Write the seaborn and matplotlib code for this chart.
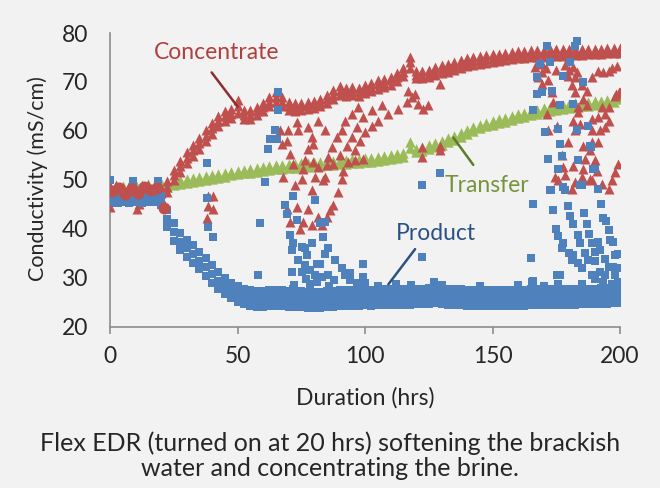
import matplotlib
matplotlib.use("Agg")
import matplotlib.pyplot as plt
import pandas as pd
import seaborn as sns
from matplotlib import font_manager

# ---------------- data ----------------
hours = [0, 2.5, 5, 7.5, 10, 12.5, 15, 17.5, 20,
         22.5, 25, 27.5, 30, 32.5, 35, 37.5, 40, 42.5,
         45, 47.5, 50, 52.5, 55, 57.5, 60, 62.5, 65,
         67.5, 70, 72.5, 75, 77.5, 80, 82.5, 85, 87.5,
         90, 92.5, 95, 97.5, 100, 102.5, 105, 107.5, 110,
         112.5, 115, 117.5, 120, 122.5, 125, 127.5, 130, 132.5,
         135, 137.5, 140, 142.5, 145, 147.5, 150, 152.5, 155,
         157.5, 160, 162.5, 165, 167.5, 170, 172.5, 175, 177.5,
         180, 182.5, 185, 187.5, 190, 192.5, 195, 197.5, 200]

# Concentrate main band (lower edge, middle, upper edge)
conc_lo = [46.5, 46.9, 46.3, 46.7, 46.1, 46.5, 46.9, 46.6, 46.3,
           47.5, 49.9, 51.7, 53.4, 54.9, 56.4, 57.9, 59.4, 60.9,
           62.1, 62.6, 63.6, 62.4, 62.5, 63.2, 64.0, 65.1, 66.0,
           65.1, 64.2, 64.0, 64.2, 64.4, 64.6, 65.0, 65.6, 66.5,
           67.3, 67.2, 67.4, 67.2, 67.7, 68.2, 68.6, 68.9, 69.4,
           70.2, 71.2, 72.8, 70.8, 70.9, 71.0, 71.4, 71.9, 72.1,
           72.4, 72.8, 73.2, 73.4, 73.6, 73.9, 74.1, 74.2, 74.4,
           74.7, 74.8, 74.9, 75.0, 75.1, 75.1, 75.2, 75.3, 75.4,
           75.4, 75.5, 75.6, 75.7, 75.7, 75.8, 75.9, 75.9, 76.0]
conc_mid = [47.6, 47.9, 47.3, 47.7, 47.1, 47.5, 47.9, 47.6, 47.3,
            48.6, 51.0, 52.8, 54.5, 56.0, 57.5, 59.0, 60.5, 62.0,
            63.0, 63.5, 65.0, 63.3, 63.3, 64.0, 64.8, 66.0, 67.0,
            66.0, 65.0, 64.8, 65.0, 65.2, 65.4, 65.8, 66.5, 67.4,
            68.2, 68.0, 68.2, 68.0, 68.5, 69.0, 69.5, 69.8, 70.3,
            71.0, 72.0, 74.0, 71.5, 71.5, 71.7, 72.2, 72.7, 72.9,
            73.2, 73.6, 74.0, 74.2, 74.4, 74.7, 74.9, 75.0, 75.2,
            75.5, 75.6, 75.7, 75.8, 75.9, 75.9, 76.0, 76.0, 76.1,
            76.1, 76.2, 76.2, 76.3, 76.3, 76.3, 76.4, 76.4, 76.4]
conc_hi = [48.7, 49.0, 48.4, 48.8, 48.2, 48.6, 49.0, 48.7, 48.4,
           49.7, 52.1, 53.9, 55.6, 57.1, 58.6, 60.1, 61.6, 63.1,
           64.0, 64.4, 66.4, 64.2, 64.2, 64.9, 65.7, 66.9, 68.0,
           66.9, 65.9, 65.6, 65.8, 66.0, 66.2, 66.6, 67.4, 68.3,
           69.1, 68.8, 69.0, 68.8, 69.3, 69.8, 70.3, 70.6, 71.1,
           71.8, 72.8, 75.0, 72.3, 72.2, 72.4, 73.0, 73.5, 73.7,
           74.0, 74.4, 74.8, 75.0, 75.2, 75.5, 75.7, 75.8, 76.0,
           76.2, 76.3, 76.4, 76.5, 76.6, 76.6, 76.7, 76.7, 76.8,
           76.7, 76.8, 76.8, 76.8, 76.8, 76.8, 76.9, 76.9, 76.9]

# Transfer band (lower and upper edge)
trans_lo = [47.6, 47.8, 47.9, 48.0, 48.1, 48.2, 48.3, 48.4, 48.5,
            48.6, 48.9, 49.1, 49.3, 49.5, 49.7, 49.9, 50.1, 50.3,
            50.6, 50.9, 51.1, 51.3, 51.5, 51.7, 51.9, 52.1, 52.2,
            52.3, 52.4, 52.5, 52.6, 52.7, 52.8, 52.9, 53.0, 53.1,
            53.2, 53.3, 53.4, 53.5, 53.6, 53.7, 53.9, 54.0, 54.2,
            54.4, 54.6, 56.6, 55.6, 55.8, 56.3, 56.7, 57.2, 57.7,
            58.2, 58.8, 59.4, 59.9, 60.5, 60.9, 61.3, 61.6, 61.9,
            62.3, 62.6, 62.9, 63.2, 63.5, 63.8, 64.0, 64.2, 64.4,
            64.6, 64.8, 65.0, 65.1, 65.3, 65.4, 65.6, 66.0, 66.6]
trans_hi = [48.4, 48.6, 48.7, 48.8, 48.9, 49.0, 49.1, 49.2, 49.3,
            49.4, 49.7, 49.9, 50.1, 50.3, 50.5, 50.7, 50.9, 51.1,
            51.4, 51.7, 51.9, 52.1, 52.3, 52.5, 52.7, 52.9, 53.0,
            53.1, 53.2, 53.3, 53.4, 53.5, 53.6, 53.7, 53.8, 53.9,
            54.0, 54.1, 54.2, 54.3, 54.4, 54.5, 54.7, 54.8, 55.0,
            55.2, 55.4, 57.8, 56.4, 56.6, 57.1, 57.5, 58.0, 58.5,
            59.0, 59.6, 60.2, 60.7, 61.3, 61.7, 62.1, 62.4, 62.7,
            63.1, 63.4, 63.7, 64.0, 64.3, 64.6, 64.8, 65.0, 65.2,
            65.4, 65.6, 65.8, 65.9, 66.1, 66.2, 66.4, 66.8, 67.4]

# Product band (lower edge, middle, upper edge)
prod_lo = [45.4, 45.3, 45.5, 45.2, 45.4, 45.3, 45.4, 45.5, 44.8,
           40.3, 37.5, 35.6, 34.2, 33.0, 31.7, 30.4, 29.0, 27.7,
           26.6, 25.8, 25.1, 24.6, 24.3, 24.1, 24.0, 24.2, 24.3,
           24.2, 24.1, 24.0, 24.0, 23.9, 23.9, 23.9, 24.0, 24.1,
           24.2, 24.2, 24.3, 24.3, 24.4, 24.3, 24.4, 24.4, 24.5,
           24.5, 24.5, 24.5, 24.6, 24.6, 24.7, 24.9, 24.7, 24.5,
           24.4, 24.4, 24.3, 24.3, 24.2, 24.2, 24.2, 24.2, 24.2,
           24.2, 24.3, 24.3, 24.4, 24.4, 24.4, 24.4, 24.5, 24.5,
           24.5, 24.5, 24.6, 24.6, 24.6, 24.7, 24.7, 24.8, 24.8]
prod_mid = [46.3, 46.1, 46.4, 46.0, 46.2, 46.3, 46.2, 46.4, 45.7,
            42.0, 39.3, 37.4, 36.0, 34.8, 33.5, 32.2, 30.8, 29.4,
            28.3, 27.4, 26.7, 26.2, 25.9, 25.7, 25.6, 25.8, 25.9,
            25.8, 25.7, 25.6, 25.6, 25.5, 25.5, 25.5, 25.6, 25.7,
            25.8, 25.8, 25.9, 25.9, 26.0, 25.9, 26.0, 26.0, 26.1,
            26.1, 26.1, 26.1, 26.2, 26.2, 26.3, 26.5, 26.3, 26.1,
            26.0, 26.0, 25.9, 25.9, 25.8, 25.8, 25.8, 25.8, 25.8,
            25.8, 25.9, 25.9, 26.0, 26.0, 26.0, 26.0, 26.1, 26.1,
            26.1, 26.1, 26.2, 26.2, 26.2, 26.3, 26.3, 26.4, 26.4]
prod_hi = [47.2, 47.0, 47.3, 46.9, 47.1, 47.2, 47.0, 47.3, 46.6,
           43.8, 41.1, 39.2, 37.8, 36.6, 35.3, 34.0, 32.6, 31.1,
           30.0, 29.0, 28.3, 27.8, 27.5, 27.3, 27.2, 27.4, 27.5,
           27.4, 27.3, 27.2, 27.2, 27.1, 27.1, 27.1, 27.2, 27.3,
           27.4, 27.4, 27.5, 27.5, 27.6, 27.5, 27.6, 27.6, 27.7,
           27.7, 27.7, 27.7, 27.8, 27.8, 27.9, 28.1, 27.9, 27.7,
           27.6, 27.6, 27.5, 27.5, 27.4, 27.4, 27.4, 27.4, 27.4,
           27.4, 27.5, 27.5, 27.6, 27.6, 27.6, 27.6, 27.7, 27.7,
           27.7, 27.7, 27.8, 27.8, 27.8, 27.9, 27.9, 28.0, 28.0]

# Early concentrate readings (round markers before the unit was switched on)
conc_early_x = [0.8, 3.5, 6.0, 8.5, 11.0, 13.5, 16.0, 18.5, 21.0]
conc_early_y = [47.8, 48.4, 47.1, 48.2, 47.4, 48.6, 47.9, 48.3, 44.2]

# Concentrate readings off the main band (after polarity reversals)
conc_sx = [0.0, 10.5, 11.5, 2.0,
           38.6, 40.5, 38.6, 40.5, 37.9,
           66.7, 69.9, 67.3, 69.3, 73.2, 73.9, 77.8, 79.1, 79.7, 77.8, 81.7, 84.3,
           70.6, 71.9, 76.5, 79.7, 81.7, 85.0, 68.0, 75.8, 80.4, 84.3, 90.8,
           85.6, 86.9, 88.9, 90.8, 92.2, 94.8, 97.4,
           87.6, 90.2, 92.8, 94.8, 96.7, 99.3, 102.6, 106.5,
           91.5, 93.5, 96.1, 98.0, 100.0, 102.6, 105.2, 109.1, 113.1, 116.3,
           96.1, 99.3,
           117.0, 118.3, 120.9, 122.9, 124.8, 119.6, 129.4, 122.2, 122.2, 129.4, 129.4,
           75.2, 83.7, 72.5, 79.1, 89.5, 73.2, 69.3, 77.8, 87.6, 70.6, 74.5, 79.1,
           81.7, 85.0, 83.0, 75.8, 86.3,
           166.7, 169.3, 168.0, 169.3, 171.9, 173.2, 173.9, 171.3, 175.2, 171.9,
           179.8, 177.2, 177.8, 174.5, 178.5, 181.7,
           178.5, 180.0, 181.5, 183.0, 179.5, 182.5, 169.3, 171.0, 175.0,
           181.1, 182.4, 185.0, 187.0, 185.6, 183.7, 187.0, 183.7, 181.7, 184.3, 182.4,
           188.9, 191.5, 195.5, 198.7, 193.5, 197.0,
           188.9, 191.5, 194.2, 195.5, 198.1, 200.0, 192.9, 188.9, 192.2, 194.2, 195.5,
           191.5, 188.9, 185.6, 188.3, 186.3, 185.6, 190.2, 190.9, 185.0, 188.3,
           199.4, 198.1, 198.5, 199.5,
           175.8, 181.1, 182.4, 185.6, 188.9, 192.8, 195.5, 196.8]
conc_sy = [44.5, 44.1, 45.0, 45.6,
           46.8, 46.7, 44.7, 44.0, 42.2,
           60.1, 60.1, 57.4, 58.0, 61.8, 60.1, 60.8, 58.7, 57.4, 56.3, 62.1, 60.1,
           55.3, 53.3, 54.0, 53.6, 52.6, 53.0, 50.6, 52.3, 50.6, 50.6, 50.2,
           54.6, 56.7, 58.7, 60.1, 62.1, 63.5, 64.8,
           53.3, 55.0, 57.0, 58.7, 60.8, 62.8, 64.2, 65.2,
           51.9, 53.6, 56.0, 58.0, 59.7, 61.1, 62.1, 63.5, 64.5, 65.9,
           54.0, 54.3,
           68.2, 66.9, 65.5, 64.5, 65.2, 67.5, 69.6, 56.7, 54.6, 57.0, 56.0,
           50.1, 49.9, 48.9, 47.9, 47.5, 44.5, 44.1, 44.1, 44.8, 41.4, 40.0, 40.7,
           42.4, 42.4, 40.7, 41.4, 43.8,
           73.0, 72.0, 71.0, 69.6, 70.3, 67.9, 65.9, 63.5, 61.1, 60.1,
           57.7, 55.0, 52.6, 50.6, 50.9, 52.9,
           73.5, 72.5, 73.0, 72.0, 71.3, 71.0, 73.7, 72.8, 72.5,
           69.3, 67.9, 69.3, 68.2, 66.5, 64.8, 65.2, 63.8, 62.1, 61.4, 60.1,
           71.0, 72.3, 72.3, 73.3, 72.0, 72.8,
           62.5, 62.8, 63.5, 64.8, 67.2, 67.9, 64.8, 60.1, 60.1, 60.8, 62.1,
           57.7, 57.7, 57.0, 56.0, 54.3, 52.3, 54.0, 51.9, 50.6, 50.2,
           53.3, 51.6, 67.5, 68.0,
           49.9, 48.2, 49.5, 49.9, 49.9, 49.2, 48.2, 49.9]

# Product readings off the main band
prod_sx = [0.0, 9.2, 19.0, 3.3, 7.2, 19.6,
           37.9, 37.9, 38.6, 40.5,
           58.8, 58.2, 60.8, 62.0, 62.7, 65.6, 64.6, 65.9, 65.9,
           68.6, 71.9, 69.3, 73.2, 70.6, 71.9, 71.2, 75.2, 76.5, 79.1, 77.1, 73.9,
           71.2, 75.2, 76.5, 78.4, 81.0, 82.3, 85.6, 84.3, 88.2, 90.8, 92.1, 94.1,
           85.6, 80.4, 78.4, 81.0, 83.7, 82.3, 84.3, 80.4, 122.2, 122.2, 99.3, 99.3,
           71.9, 129.4,
           171.3, 183.0, 168.7, 172.6, 180.4, 177.8, 167.3, 169.3, 167.3, 173.2,
           176.5, 181.7, 187.6, 183.0, 175.8, 170.6, 166.0, 176.5, 188.3, 171.9,
           183.7, 190.2, 175.8, 177.8, 184.3, 191.5, 172.6,
           182.4, 185.4, 189.6, 177.4, 188.5,
           173.0, 178.5, 185.0, 166.0, 173.9, 179.5, 185.7, 192.4, 180.4, 181.7,
           187.0, 193.5, 194.5, 174.8, 175.8, 183.4, 188.0, 195.5, 177.8, 177.2,
           184.3, 188.9, 191.3, 196.1, 197.4, 180.0, 181.7, 186.3, 190.2, 192.2,
           194.1, 198.1, 199.4, 165.1, 181.1, 183.4, 187.6, 190.0, 185.0, 188.9,
           192.2, 195.5, 197.4, 199.4, 175.2, 176.5, 165.4, 175.8, 190.2, 193.5,
           196.8, 199.4, 194.2,
           72.0, 77.0, 83.0, 86.0, 88.0, 94.0, 97.0, 100.0, 105.0, 112.0,
           118.0, 127.0, 130.0, 145.0, 160.0, 166.0, 170.0, 185.0, 198.0]
prod_sy = [49.9, 49.7, 49.7, 45.3, 45.6, 45.6,
           53.4, 46.2, 40.4, 38.3,
           41.1, 30.5, 49.5, 56.4, 58.4, 58.4, 60.1, 67.9, 64.2,
           44.8, 46.8, 43.1, 41.7, 38.7, 37.0, 35.6, 36.3, 36.0, 37.0, 34.6, 33.6,
           31.2, 31.2, 32.6, 31.5, 32.9, 32.9, 36.0, 34.9, 33.6, 31.9, 30.6, 30.9,
           30.5, 30.5, 28.8, 29.2, 38.3, 41.1, 41.4, 45.8, 48.9, 34.3, 32.9, 30.2,
           27.8, 51.3,
           77.4, 78.4, 73.7, 74.0, 74.0, 71.3, 71.0, 67.9, 67.5, 68.2,
           65.2, 65.5, 61.1, 60.1, 60.4, 59.7, 64.2, 57.4, 57.0, 54.3,
           54.0, 52.3, 52.3, 48.5, 48.9, 48.2, 47.9,
           77.4, 69.9, 52.3, 54.8, 56.8,
           47.9, 47.9, 48.9, 45.1, 43.8, 44.7, 43.3, 45.0, 42.6, 40.9,
           40.9, 42.3, 41.6, 40.0, 38.5, 38.7, 38.9, 39.7, 37.2, 36.0,
           37.0, 37.1, 37.3, 37.7, 37.3, 35.1, 34.6, 35.1, 35.3, 35.6,
           33.9, 34.6, 34.8, 34.1, 33.6, 33.1, 33.6, 33.5, 31.9, 30.5,
           31.1, 32.2, 32.2, 31.9, 30.5, 30.5, 29.2, 28.8, 29.8, 29.2,
           28.8, 29.2, 30.5,
           28.6, 29.8, 30.2, 28.4, 29.5, 29.6, 28.9, 29.0, 28.3, 28.7,
           28.5, 29.2, 28.6, 28.4, 28.5, 29.3, 28.3, 28.7, 30.5]

x_ticks = [0, 50, 100, 150, 200]
y_ticks = [20, 30, 40, 50, 60, 70, 80]

# callouts: (text, text position, line start, line end)
callouts = [("Concentrate", (42.0, 76.0), (39.2, 72.4), (50.7, 64.5)),
            ("Transfer", (148.0, 48.9), (134.0, 59.1), (143.1, 52.6)),
            ("Product", (128.0, 39.1), (120.3, 36.3), (108.5, 28.2))]

# ---------------- style ----------------
RED, GREEN, BLUE = "#C0504D", "#9BBB59", "#4F81BD"
TEXT_COL = {"Concentrate": ("#B0403D", "#8E2E2C"),
            "Transfer": ("#77933C", "#5F7A2C"),
            "Product": ("#2B5283", "#2B5283")}
BG = "#F2F2F2"
INK = "#262626"

sns.set_theme(style="white")
names = {f.name for f in font_manager.fontManager.ttflist}
fam = "Lato" if "Lato" in names else "DejaVu Sans"
plt.rcParams["font.family"] = [fam, "DejaVu Sans"]
plt.rcParams["font.weight"] = "normal"
plt.rcParams["axes.labelweight"] = "normal"
FS = 16.5
W = "normal"

fig = plt.figure(figsize=(6.6, 4.88), dpi=100, facecolor=BG)
ax = fig.add_axes([110 / 660, 1 - 326.7 / 488, 510 / 660, (326.7 - 33.0) / 488])
ax.set_facecolor(BG)

df_trans = pd.DataFrame({"hours": hours * 2, "value": trans_lo + trans_hi})
df_conc = pd.DataFrame({"hours": hours * 3, "value": conc_lo + conc_mid + conc_hi})
df_prod = pd.DataFrame({"hours": hours * 3, "value": prod_lo + prod_mid + prod_hi})
df_conc_s = pd.DataFrame({"hours": conc_sx, "value": conc_sy})
df_prod_s = pd.DataFrame({"hours": prod_sx, "value": prod_sy})
df_early = pd.DataFrame({"hours": conc_early_x, "value": conc_early_y})

kw = dict(ax=ax, x="hours", y="value", linewidth=0, legend=False)
sns.scatterplot(data=df_trans, marker="^", s=56, color=GREEN, zorder=2, **kw)
sns.scatterplot(data=df_conc, marker="^", s=52, color=RED, zorder=3, **kw)
sns.scatterplot(data=df_conc_s, marker="^", s=52, color=RED, zorder=3, **kw)
sns.scatterplot(data=df_prod, marker="s", s=36, color=BLUE, zorder=4, **kw)
sns.scatterplot(data=df_prod_s, marker="s", s=36, color=BLUE, zorder=4, **kw)
sns.scatterplot(data=df_early, marker="o", s=75, color=RED, zorder=5, **kw)

for label, tpos, p0, p1 in callouts:
    tc, lc = TEXT_COL[label]
    ax.annotate("", xy=p1, xytext=p0,
                arrowprops=dict(arrowstyle="-", color=lc, lw=1.8), zorder=6)
    ax.text(tpos[0], tpos[1], label, color=tc, fontsize=FS, fontweight=W,
            ha="center", va="center", zorder=7)

ax.set_xlim(0, 200)
ax.set_ylim(20, 80)
ax.set_xticks(x_ticks)
ax.set_yticks(y_ticks)
ax.set_xticklabels([str(v) for v in x_ticks], fontweight=W)
ax.set_yticklabels([str(v) for v in y_ticks], fontweight=W)
for side in ("top", "right"):
    ax.spines[side].set_visible(False)
for side in ("left", "bottom"):
    ax.spines[side].set_color("#8C8C8C")
    ax.spines[side].set_linewidth(1.2)
ax.tick_params(axis="x", which="major", bottom=True, length=5, width=1.2,
               color="#8C8C8C", labelsize=FS, labelcolor=INK, pad=9)
ax.tick_params(axis="y", which="major", left=False, length=0,
               labelsize=FS, labelcolor=INK, pad=16)
ax.set_xlabel("Duration (hrs)", fontsize=FS, color=INK, fontweight=W, labelpad=14)
ax.set_ylabel("Conductivity (mS/cm)", fontsize=15.5, color=INK, fontweight=W)
ax.yaxis.set_label_coords(-0.122, 0.505)

fig.text(0.5, 1 - 456 / 488,
         "Flex EDR (turned on at 20 hrs) softening the brackish\nwater and concentrating the brine.",
         ha="center", va="center", fontsize=18, color=INK, fontweight=W,
         linespacing=1.1)

fig.savefig("out.png", dpi=100, facecolor=BG)
